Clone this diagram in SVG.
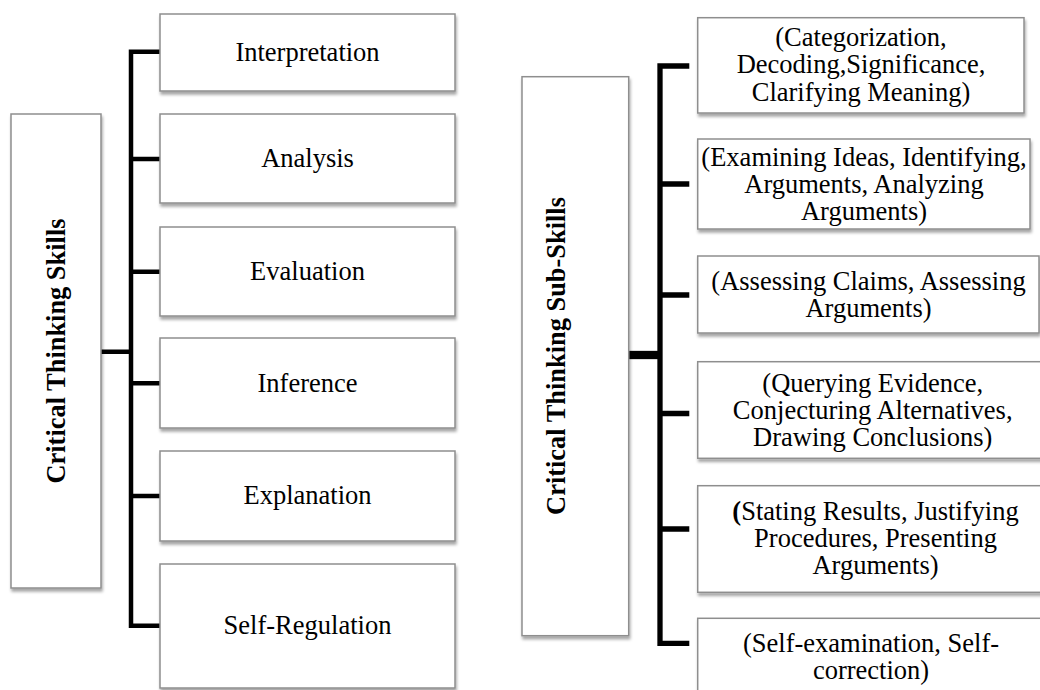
<svg xmlns="http://www.w3.org/2000/svg" width="1040" height="690" viewBox="0 0 1040 690">
<defs>
<filter id="sh" x="-10%" y="-10%" width="130%" height="130%">
<feDropShadow dx="1" dy="3" stdDeviation="1.8" flood-color="#000" flood-opacity="0.35"/>
</filter>
</defs>
<style>
.box{fill:#fff;stroke:#8e8e8e;stroke-width:1.5;filter:url(#sh)}
.t{font-family:"Liberation Serif","Times New Roman",serif;fill:#000;text-anchor:middle}
.l{font-size:26.5px}
.r{font-size:26.5px}
.h{font-size:26.4px;font-weight:bold}
.c{fill:none;stroke:#000;stroke-linejoin:miter;stroke-linecap:butt}
</style>
<rect width="1040" height="690" fill="#fff"/>

<g id="connectors">
<path class="c" stroke-width="4.5" d="M160,51.8 H131 V625.7 H160"/>
<path class="c" stroke-width="4.5" d="M131,159 H160 M131,271.7 H160 M131,383.3 H160 M131,496 H160 M101,351.7 H131"/>
<path class="c" stroke-width="5.3" d="M689.3,66 H660 V643.3 H689.3"/>
<path class="c" stroke-width="5.3" d="M660,184 H689.3 M660,295 H689.3 M660,413.5 H689.3 M660,529 H689.3"/>
<path class="c" stroke-width="8.3" d="M628.7,355 H660"/>
</g>

<g id="root-left">
<rect class="box" x="11" y="114" width="90" height="474"/>
<text class="t h" transform="translate(65,351) rotate(-90)">Critical Thinking Skills</text>
</g>

<g id="interpretation">
<rect class="box" x="160" y="14" width="295" height="77"/>
<text class="t l" x="307.5" y="61">Interpretation</text>
</g>
<g id="analysis">
<rect class="box" x="160" y="114" width="295" height="89"/>
<text class="t l" x="307.5" y="167">Analysis</text>
</g>
<g id="evaluation">
<rect class="box" x="160" y="227" width="295" height="89"/>
<text class="t l" x="307.5" y="280">Evaluation</text>
</g>
<g id="inference">
<rect class="box" x="160" y="338" width="295" height="90"/>
<text class="t l" x="307.5" y="392">Inference</text>
</g>
<g id="explanation">
<rect class="box" x="160" y="451" width="295" height="90"/>
<text class="t l" x="307.5" y="504">Explanation</text>
</g>
<g id="self-regulation">
<rect class="box" x="160" y="564" width="295" height="124"/>
<text class="t l" x="307.5" y="634">Self-Regulation</text>
</g>

<g id="root-right">
<rect class="box" x="522" y="76.7" width="106.7" height="559"/>
<text class="t h" transform="translate(564.5,356) rotate(-90)">Critical Thinking Sub-Skills</text>
</g>

<g id="sub-interpretation">
<rect class="box" x="697.7" y="17.7" width="326.3" height="95.3"/>
<text class="t r" x="861"><tspan x="861" y="45.7">(Categorization,</tspan><tspan x="861" y="73.3">Decoding,Significance,</tspan><tspan x="861" y="100.5">Clarifying Meaning)</tspan></text>
</g>
<g id="sub-analysis">
<rect class="box" x="697.7" y="139" width="332.3" height="90"/>
<text class="t r" x="864"><tspan x="864" y="165.7">(Examining Ideas, Identifying,</tspan><tspan x="864" y="192.7">Arguments, Analyzing</tspan><tspan x="864" y="220">Arguments)</tspan></text>
</g>
<g id="sub-evaluation">
<rect class="box" x="697.7" y="256" width="341.3" height="77"/>
<text class="t r" x="868.5"><tspan x="868.5" y="290">(Assessing Claims, Assessing</tspan><tspan x="868.5" y="316.7">Arguments)</tspan></text>
</g>
<g id="sub-inference">
<rect class="box" x="697.7" y="361.7" width="360" height="96.6"/>
<text class="t r" x="872.7"><tspan x="872.7" y="391.7">(Querying Evidence,</tspan><tspan x="872.7" y="419">Conjecturing Alternatives,</tspan><tspan x="872.7" y="446">Drawing Conclusions)</tspan></text>
</g>
<g id="sub-explanation">
<rect class="box" x="697.7" y="485.7" width="360" height="106.6"/>
<text class="t r" x="875.5"><tspan x="875.5" y="520"><tspan font-weight="bold">(</tspan>Stating Results, Justifying</tspan><tspan x="875.5" y="547">Procedures, Presenting</tspan><tspan x="875.5" y="574">Arguments)</tspan></text>
</g>
<g id="sub-self-regulation">
<rect class="box" x="697.7" y="618.3" width="360" height="79"/>
<text class="t r" x="871"><tspan x="871" y="652">(Self-examination, Self-</tspan><tspan x="871" y="679">correction)</tspan></text>
</g>
</svg>
